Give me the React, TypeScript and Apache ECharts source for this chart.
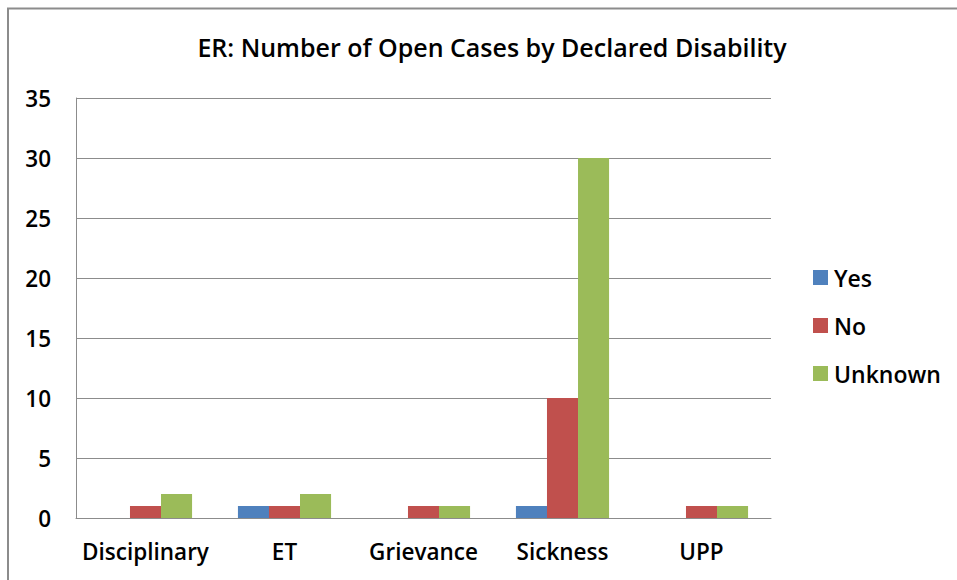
import React, { useEffect, useRef } from "react";
import * as echarts from "echarts";

const categories = ["Disciplinary", "ET", "Grievance", "Sickness", "UPP"];
const yesValues = [0, 1, 0, 1, 0];
const noValues = [1, 1, 1, 10, 1];
const unknownValues = [2, 2, 1, 30, 1];
const seriesNames = ["Yes", "No", "Unknown"];
const colors = ["#4F81BD", "#C0504D", "#9BBB59"];

const FONT = "'Open Sans', Lato, sans-serif";

export default function App() {
  const ref = useRef<HTMLDivElement>(null);
  useEffect(() => {
    if (!ref.current) return;
    const chart = echarts.init(ref.current, null, { renderer: "svg" });
    const values = [yesValues, noValues, unknownValues];
    chart.setOption({
      animation: false,
      backgroundColor: "#ffffff",
      title: {
        text: "ER: Number of Open Cases by Declared Disability",
        left: 487,
        textAlign: "center",
        top: 27,
        textStyle: { fontFamily: FONT, fontSize: 25, fontWeight: 600, color: "#000", lineHeight: 30 },
      },
      graphic: [
        {
          type: "polyline",
          shape: { points: [[8, 590], [8, 8.5], [970, 8.5]] },
          style: { stroke: "#8c8c8c", lineWidth: 2, fill: "none" },
        },
      ],
      legend: {
        orient: "vertical",
        left: 813,
        top: 266,
        padding: 0,
        itemWidth: 15,
        itemHeight: 15,
        itemGap: 25,
        icon: "rect",
        textStyle: { fontFamily: FONT, fontSize: 23, fontWeight: 600, color: "#000", lineHeight: 22, padding: [0, 0, 0, 1] },
        data: seriesNames,
      },
      grid: { left: 76, top: 98, width: 695, height: 420 },
      xAxis: {
        type: "category",
        data: categories,
        axisLine: { lineStyle: { color: "#8c8c8c", width: 1 } },
        axisTick: { show: false },
        axisLabel: { fontFamily: FONT, fontSize: 22.5, fontWeight: 600, color: "#000", margin: 22, interval: 0 },
      },
      yAxis: {
        type: "value",
        min: 0,
        max: 35,
        interval: 5,
        axisLine: { show: true, lineStyle: { color: "#8c8c8c", width: 1 } },
        axisTick: { show: false },
        splitLine: { lineStyle: { color: "#8c8c8c", width: 1 } },
        axisLabel: { fontFamily: FONT, fontSize: 22.5, fontWeight: 600, color: "#000", margin: 25 },
      },
      series: seriesNames.map((name, i) => ({
        name,
        type: "bar",
        data: values[i],
        barGap: "0%",
        barCategoryGap: "33%",
        itemStyle: { color: colors[i] },
      })),
    });
    return () => chart.dispose();
  }, []);
  return (
    <div
      ref={ref}
      style={{ position: "fixed", left: 0, top: 0, width: 957, height: 580 }}
    />
  );
}
